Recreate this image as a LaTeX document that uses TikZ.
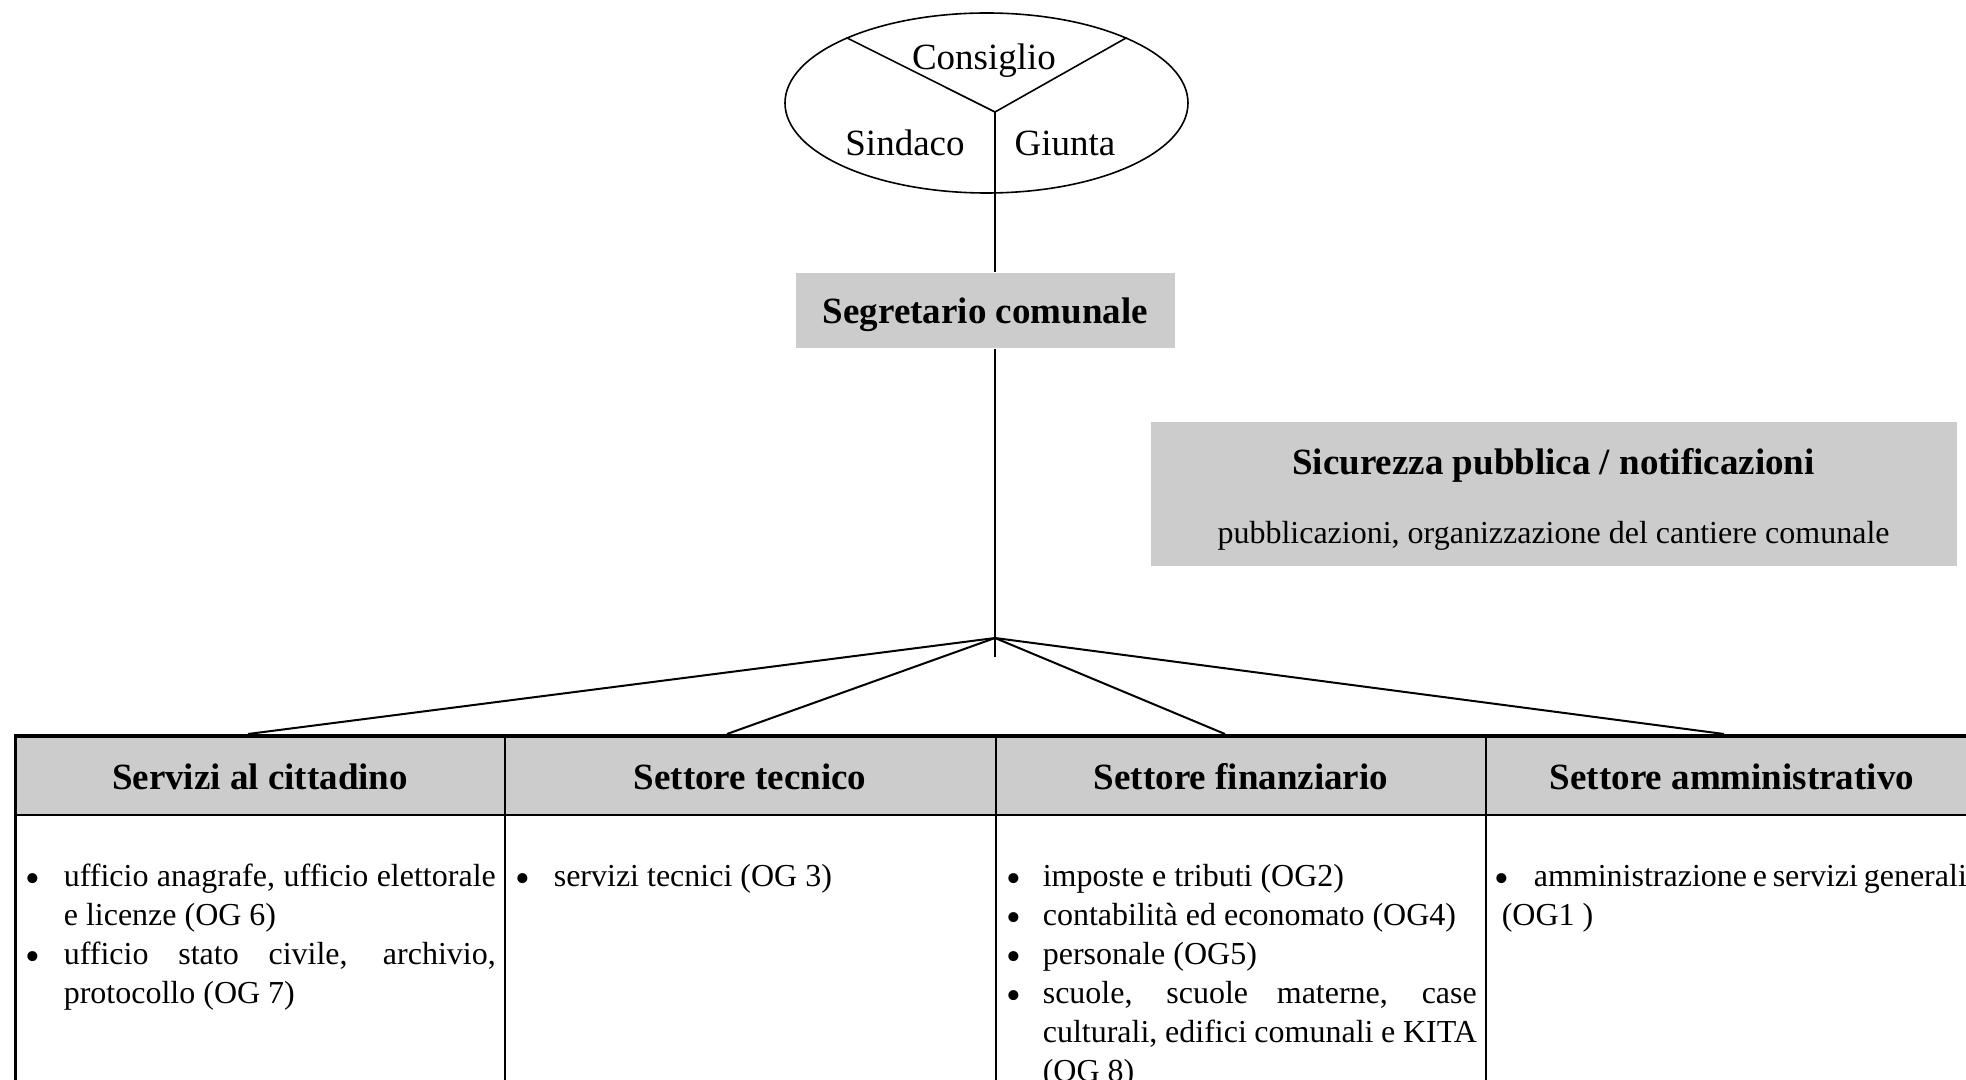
\documentclass[tikz,border=0pt]{standalone}
\usepackage{fontspec}
\setmainfont{Liberation Serif}
\usetikzlibrary{shapes.geometric}
\tikzset{
  grigio/.style={fill=black!20, draw=none, inner sep=0pt},
  testa/.style={font=\fontsize{18.5}{22}\selectfont\bfseries},
  voci/.style={anchor=north west, inner sep=0pt, align=justify, font=\fontsize{16}{19.5}\selectfont},
}
\newcommand{\pallino}{\raisebox{-3pt}{\fontsize{21}{21}\selectfont\textbullet}}
\newcommand{\voce}[2]{\hangindent=#1\hangafter=1\noindent\makebox[#1][l]{\pallino}#2\par}
\begin{document}
\begin{tikzpicture}[x=0.5pt, y=-0.5pt, font=\fontsize{18.5}{22}\selectfont, line width=.8pt]
	\useasboundingbox (0,0) rectangle (1966,1080);
	\clip (0,0) rectangle (1966,1080);
	\node[draw, ellipse, inner sep=0pt, minimum width=201.5pt, minimum height=90pt] (organi) at (986.5,103) {};
	\coordinate (centro) at (995,112);
	\node (consiglio) at (984,61) {Consiglio};
	\node (sindaco) at (905,143) {Sindaco};
	\node (giunta) at (1065,143) {Giunta};
	\draw (organi.155) -- (centro) -- (organi.25);
	\node[grigio, testa, text depth=0pt, minimum width=189.5pt, minimum height=37.5pt] (segr) at (985.5,310.5) {Segretario comunale};
	\draw (centro) -- (centro |- segr.north);
	\coordinate (fan) at (995,638);
	\coordinate (coda) at (995,657);
	\draw (centro |- segr.south) -- (coda);
	\node[grigio, minimum width=403pt, minimum height=72pt] (sicur) at (1554,494) {};
	\node[testa] (sicurtit) at (1553.5,465) {Sicurezza pubblica / notificazioni};
	\node[font=\fontsize{16}{19}\selectfont] (sicursub) at (1553.5,536) {pubblicazioni, organizzazione del cantiere comunale};
	\fill[black!20] (15,736) rectangle (1978,815);
	\node[testa] (h1) at (260,777) {Servizi al cittadino};
	\node[testa] (h2) at (750,777) {Settore tecnico};
	\node[testa] (h3) at (1241,777) {Settore finanziario};
	\node[testa] (h4) at (1732,777) {Settore amministrativo};
	\foreach \t [count=\i] in {248,727,1225,1724} \coordinate (a\i) at (\t,734);
	\foreach \i in {1,...,4} \draw[line width=1pt] (fan) -- (a\i);
	\draw[line width=2pt] (14,736) -- (1980,736);
	\draw[line width=1.25pt] (15,815) -- (1980,815);
	\draw[line width=1.5pt] (15,735) -- (15,1090);
	\foreach \x in {505,996,1486} \draw[line width=.75pt] (\x,736) -- (\x,1090);
	\node[voci, text width=235pt] (c1) at (25,863) {\voce{19pt}{ufficio anagrafe, ufficio elettorale\linebreak e licenze (OG 6)}\voce{19pt}{ufficio stato civile, archivio,\linebreak protocollo (OG 7)}};
	\node[voci, text width=236pt] (c2) at (515,863) {\voce{19pt}{servizi tecnici (OG 3)}};
	\node[voci, text width=235pt] (c3) at (1006,863) {\voce{18pt}{imposte e tributi (OG2)}\voce{18pt}{contabilità ed economato (OG4)}\voce{18pt}{personale (OG5)}\voce{18pt}{scuole, scuole materne, case\linebreak culturali, edifici comunali e KITA\linebreak (OG 8)}};
	\node[voci, text width=236pt] (c4) at (1494,863) {\hangindent=3.5pt\hangafter=1\noindent\makebox[19.5pt][l]{\pallino}amministrazione e servizi generali\linebreak (OG1 )\par};
\end{tikzpicture}
\end{document}
